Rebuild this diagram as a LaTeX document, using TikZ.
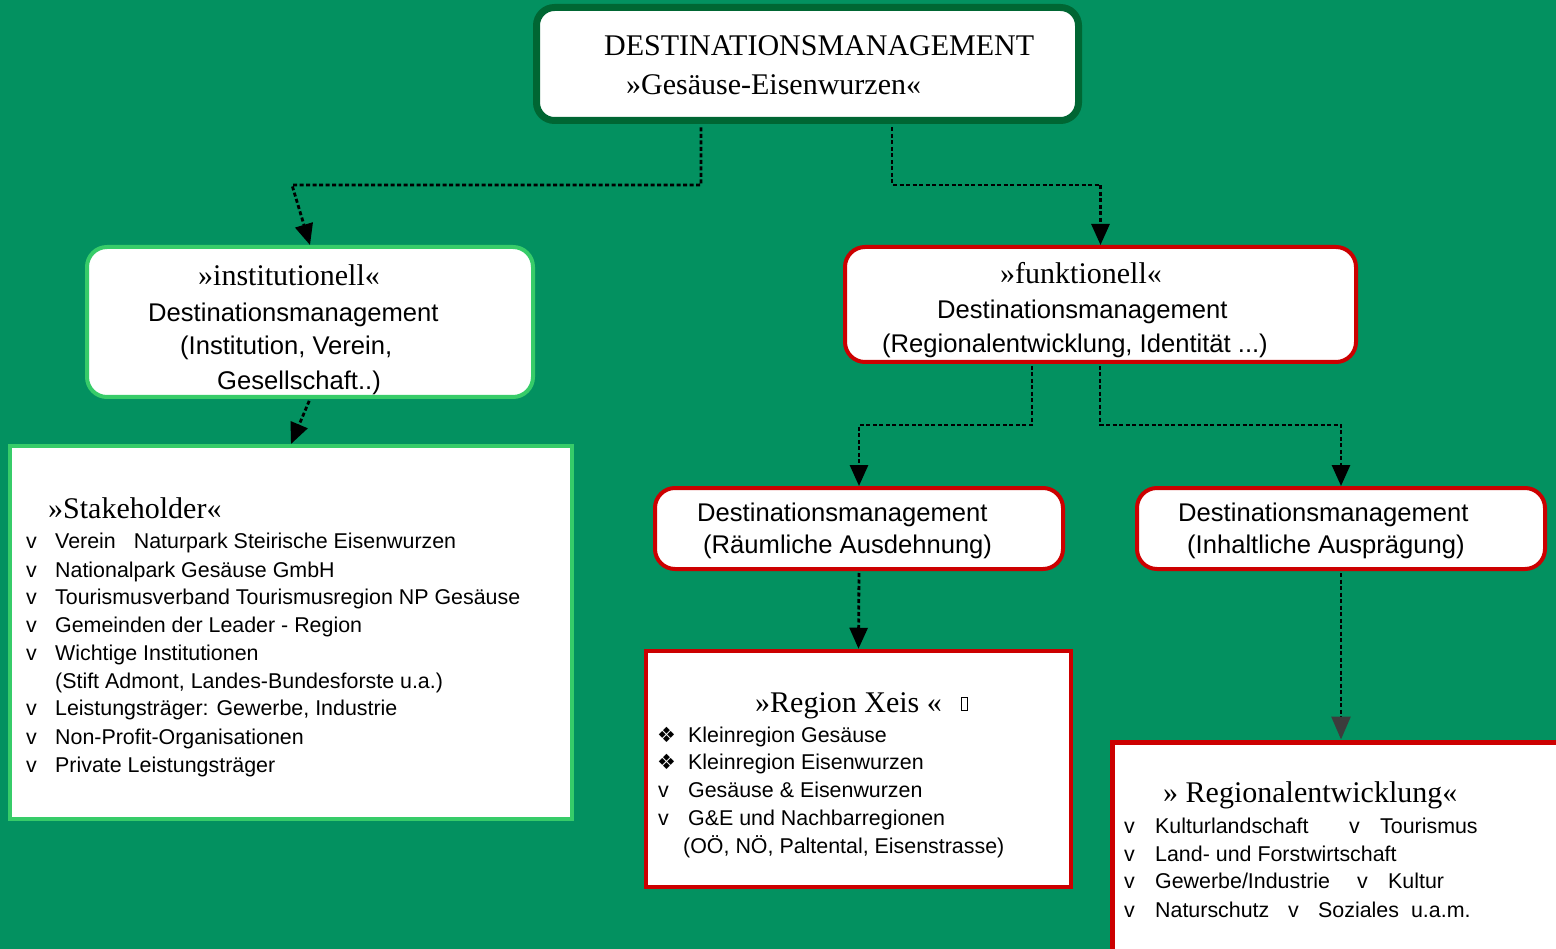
\documentclass[tikz,border=0pt]{standalone}
\usepackage{fontspec}
\setmainfont{Liberation Sans}
\newfontfamily\serf{Liberation Serif}
\newfontfamily\dejavu{DejaVu Sans}
\usetikzlibrary{arrows.meta}
\definecolor{bggreen}{RGB}{3,145,96}
\definecolor{dkgreen}{RGB}{0,102,51}
\definecolor{ltgreen}{RGB}{55,204,105}
\definecolor{boxred}{RGB}{204,0,0}
\definecolor{arrgray}{RGB}{60,60,60}
\begin{document}
\begin{tikzpicture}[x=1pt,y=-1pt,
  box/.style={draw, fill=white, inner sep=0pt, line width=4pt},
  rbox/.style={box, rounded corners=20pt},
  txt/.style={inner sep=0pt, anchor=base west, text=black},
  ser/.style={font=\serf\fontsize{30}{36}\selectfont},
  big/.style={font=\fontsize{25.6}{30}\selectfont},
  sml/.style={font=\fontsize{21.4}{26}\selectfont},
  conn/.style={draw=black, line width=2.8pt, dash pattern=on 4pt off 2.5pt, shorten <=2pt,
    -{Triangle[length=21pt,width=18pt]}}]
\clip (0,0) rectangle (1556,949);
\fill[bggreen] (0,0) rectangle (1556,949);

% boxes
\node[rbox, draw=dkgreen, line width=7pt, rounded corners=18pt, minimum width=542pt, minimum height=113pt] (top) at (807.5,64) {};
\node[rbox, draw=ltgreen, minimum width=446pt, minimum height=150pt] (inst) at (310,322) {};
\node[box, draw=ltgreen, minimum width=562pt, minimum height=373pt] (stake) at (291,632.5) {};
\node[rbox, draw=boxred, minimum width=511pt, minimum height=115pt] (funk) at (1100.5,304.5) {};
\node[rbox, draw=boxred, minimum width=408pt, minimum height=81pt] (raeum) at (859,528.5) {};
\node[rbox, draw=boxred, minimum width=408pt, minimum height=81pt] (inhalt) at (1341,528.5) {};
\node[box, draw=boxred, line width=4.5pt, minimum width=425pt, minimum height=236pt] (xeis) at (858.5,769) {};
\node[box, draw=boxred, line width=5pt, minimum width=500pt, minimum height=260pt, anchor=north west] (regent) at (1109.5,739.5) {};

% top texts
\node[txt, ser] (t1) at (604,56) {DESTINATIONSMANAGEMENT};
\node[txt, ser] (t2) at (626,95) {»Gesäuse-Eisenwurzen«};

% institutionell
\node[txt, ser] (i1) at (198,286) {»institutionell«};
\node[txt, big] (i2) at (148,322) {Destinationsmanagement};
\node[txt, big] (i3) at (180,355) {(Institution, Verein,};
\node[txt, big] (i4) at (217,390) {Gesellschaft..)};

% funktionell
\node[txt, ser] (f1) at (1000,284) {»funktionell«};
\node[txt, big] (f2) at (937,319) {Destinationsmanagement};
\node[txt, big] (f3) at (882,353) {(Regionalentwicklung, Identität ...)};

% raeumlich / inhaltlich
\node[txt, big] (r1) at (697,521) {Destinationsmanagement};
\node[txt, big] (r2) at (703,553) {(Räumliche Ausdehnung)};
\node[txt, big] (h1) at (1178,521) {Destinationsmanagement};
\node[txt, big] (h2) at (1187,553) {(Inhaltliche Ausprägung)};

% stakeholder
\node[txt, ser] (s0) at (48,518) {»Stakeholder«};
\node[txt, sml] (s1) at (26,548) {\makebox[29pt][l]{v}Verein\hspace{18pt}Naturpark Steirische Eisenwurzen};
\node[txt, sml] (s2) at (26,577) {\makebox[29pt][l]{v}Nationalpark Gesäuse GmbH};
\node[txt, sml] (s3) at (26,604) {\makebox[29pt][l]{v}Tourismusverband Tourismusregion NP Gesäuse};
\node[txt, sml] (s4) at (26,632) {\makebox[29pt][l]{v}Gemeinden der Leader - Region};
\node[txt, sml] (s5) at (26,660) {\makebox[29pt][l]{v}Wichtige Institutionen};
\node[txt, sml] (s6) at (55,688) {(Stift Admont, Landes-Bundesforste u.a.)};
\node[txt, sml] (s7) at (26,715) {\makebox[29pt][l]{v}Leistungsträger: Gewerbe, Industrie};
\node[txt, sml] (s8) at (26,744) {\makebox[29pt][l]{v}Non-Profit-Organisationen};
\node[txt, sml] (s9) at (26,772) {\makebox[29pt][l]{v}Private Leistungsträger};

% region xeis
\node[txt, ser] (x0) at (755,712) {»Region Xeis «};
\node[draw=black, line width=1.2pt, inner sep=0pt, minimum width=6pt, minimum height=13pt, anchor=south west] (xg) at (960.5,711) {};
\node[txt, sml] (x1) at (657,742) {\makebox[31pt][l]{{\dejavu\fontsize{21}{24}\selectfont ❖}}Kleinregion Gesäuse};
\node[txt, sml] (x2) at (657,769) {\makebox[31pt][l]{{\dejavu\fontsize{21}{24}\selectfont ❖}}Kleinregion Eisenwurzen};
\node[txt, sml] (x3) at (658,797) {\makebox[30pt][l]{v}Gesäuse \& Eisenwurzen};
\node[txt, sml] (x4) at (658,825) {\makebox[30pt][l]{v}G\&E und Nachbarregionen};
\node[txt, sml] (x5) at (683,853) {(OÖ, NÖ, Paltental, Eisenstrasse)};

% regionalentwicklung
\node[txt, ser] (g0) at (1163,802) {» Regionalentwicklung«};
\node[txt, sml] (g1) at (1124,833) {\makebox[31pt][l]{v}\makebox[194pt][l]{Kulturlandschaft}\makebox[31pt][l]{v}Tourismus};
\node[txt, sml] (g2) at (1124,861) {\makebox[31pt][l]{v}Land- und Forstwirtschaft};
\node[txt, sml] (g3) at (1124,888) {\makebox[31pt][l]{v}\makebox[202pt][l]{Gewerbe/Industrie}\makebox[31pt][l]{v}Kultur};
\node[txt, sml] (g4) at (1124,917) {\makebox[31pt][l]{v}\makebox[133pt][l]{Naturschutz}\makebox[30pt][l]{v}Soziales\hspace{12pt}u.a.m.};

% connectors
\coordinate (a1) at (701,185);
\coordinate (a2) at (292,185);
\draw[conn, shorten <=3.5pt] (top.south -| a1) -- (a1) -- (a2) -- (inst.north);
\coordinate (b1) at (892,185);
\coordinate (b2) at (1100.5,185);
\draw[conn, shorten <=3.5pt] (top.south -| b1) -- (b1) -- (b2) -- (funk.north);
\draw[conn] (inst.south) -- (stake.north);
\coordinate (c1) at (1032,425);
\coordinate (c2) at (859,425);
\draw[conn] (funk.south -| c1) -- (c1) -- (c2) -- (raeum.north);
\coordinate (d1) at (1100,425);
\coordinate (d2) at (1341,425);
\draw[conn] (funk.south -| d1) -- (d1) -- (d2) -- (inhalt.north);
\draw[conn] (raeum.south) -- (xeis.north);
\draw[conn, -{Triangle[length=23pt,width=19pt,color=arrgray]}] (inhalt.south) -- (inhalt.south |- regent.north);
\end{tikzpicture}
\end{document}
